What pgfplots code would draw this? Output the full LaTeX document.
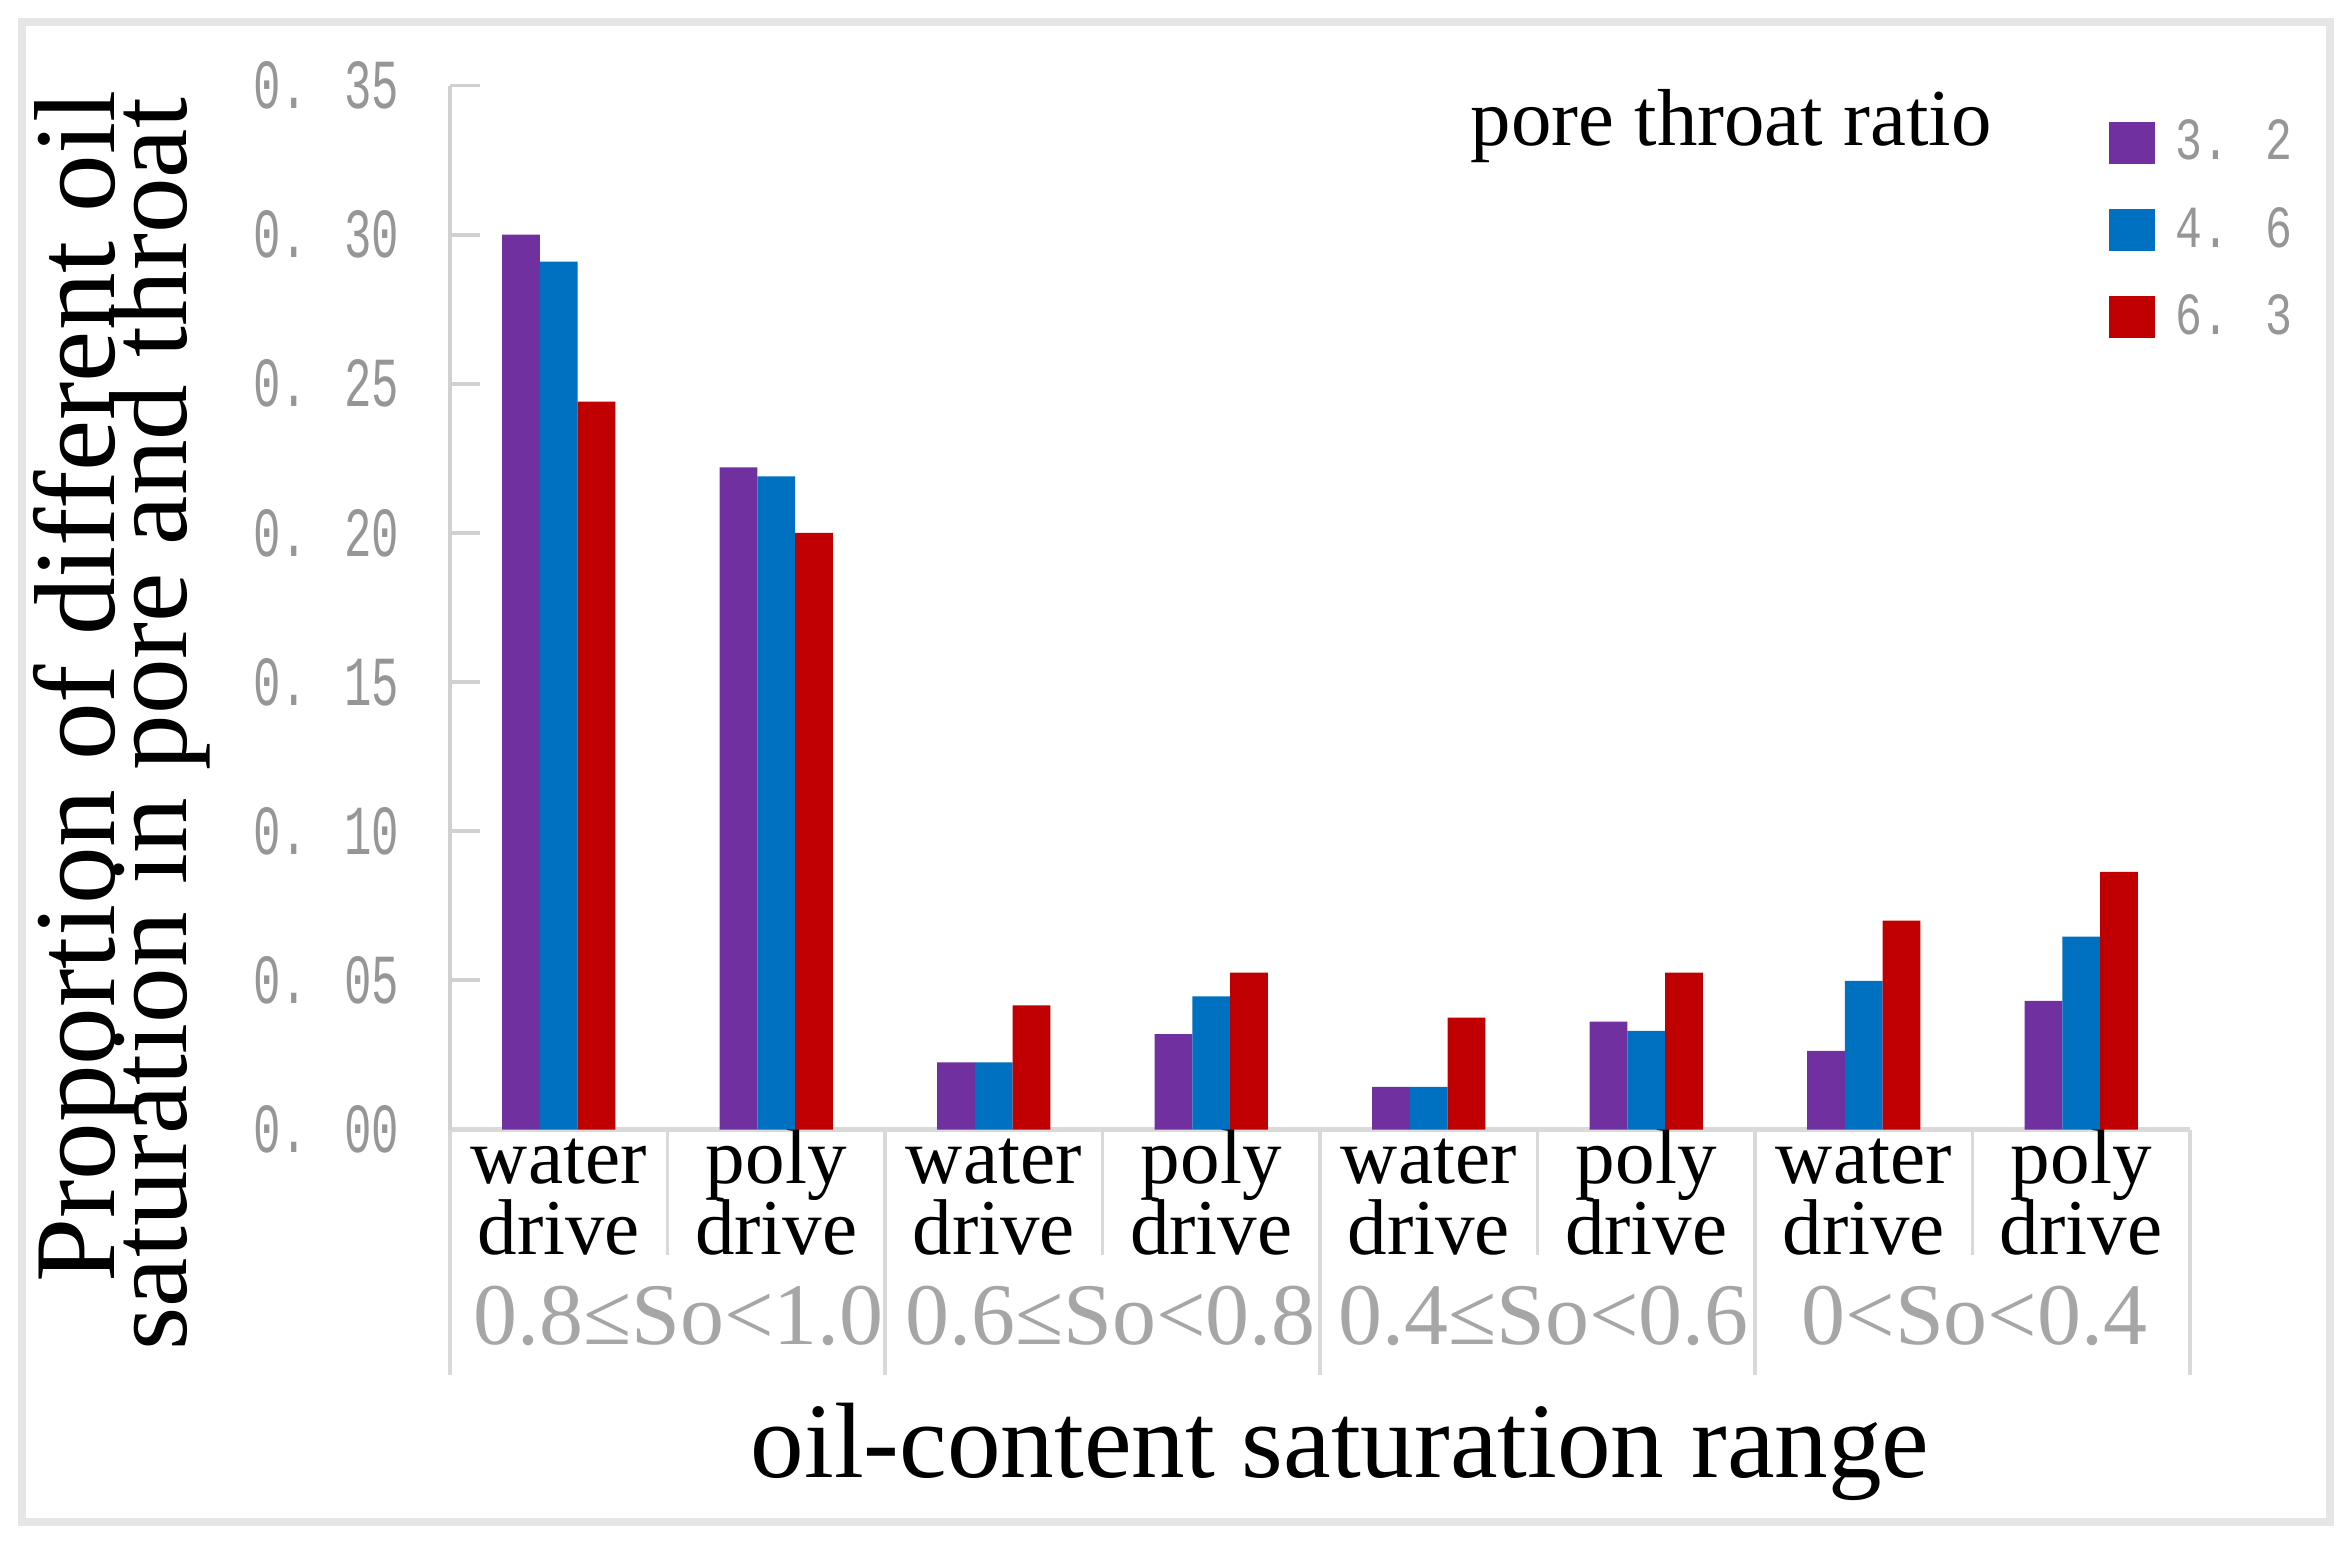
\documentclass[border=0pt]{standalone}
\usepackage{pgfplots}
\usepackage{pgfplotstable}
\usepackage{graphicx}
\usepackage{fontspec}
\pgfplotsset{compat=1.18}
\setmainfont{Liberation Serif}
\newfontfamily\monofont{Liberation Mono}
\setlength{\lineskiplimit}{-100pt}

\definecolor{cpurple}{HTML}{7030A0}
\definecolor{cblue}{HTML}{0070C0}
\definecolor{cred}{HTML}{C00000}
\definecolor{tickgray}{HTML}{969696}
\definecolor{grplab}{HTML}{A6A6A6}
\definecolor{axgray}{HTML}{D0D0D0}
\definecolor{sepgray}{HTML}{D9D9D9}
\definecolor{framegray}{HTML}{E6E6E6}

\newcommand{\tickl}[1]{\scalebox{0.65}[1]{#1}}
\newcommand{\legl}[1]{\scalebox{0.75}[1]{#1}}
\newcommand{\st}{\rule{0pt}{16pt}}

% oil saturation share per pore throat ratio
\pgfplotstableread{
x   r32    r46    r63
0   0.300  0.291  0.244
1   0.222  0.219  0.200
2   0.0225 0.0225 0.0416
3   0.0320 0.0446 0.0526
4   0.0143 0.0143 0.0375
5   0.0362 0.0331 0.0526
6   0.0264 0.0498 0.0700
7   0.0431 0.0647 0.0864
}\satdata

\tikzset{grp/.style={anchor=base, text=grplab, inner sep=0pt,
  font=\fontsize{25}{30}\selectfont}}

\begin{document}
\begin{tikzpicture}
\path[use as bounding box] (-4.5,-4.165) rectangle (19.0,11.295);
\draw[framegray, line width=0.08cm] (-4.28,-3.925) rectangle (18.80,11.075);

\begin{axis}[
  scale only axis,
  width=17.4cm, height=10.44cm,
  ybar=0pt, bar width=0.377cm,
  xmin=-0.5, xmax=7.5,
  ymin=0, ymax=0.35,
  axis lines*=left,
  axis line style={-},
  x axis line style={draw=sepgray, line width=1.4pt},
  y axis line style={draw=axgray, line width=1.1pt},
  clip=false,
  xtick={0,...,7},
  xticklabels={{\st water\\drive},{\st poly\\drive},{\st water\\drive},{\st poly\\drive},
               {\st water\\drive},{\st poly\\drive},{\st water\\drive},{\st poly\\drive}},
  x tick style={draw=none},
  xticklabel style={align=center, anchor=north, inner sep=0pt, yshift=0.7pt,
    font=\fontsize{22.5}{20}\selectfont},
  ytick={0,0.05,...,0.35},
  yticklabels={{\tickl{0. 00}},{\tickl{0. 05}},{\tickl{0. 10}},{\tickl{0. 15}},
               {\tickl{0. 20}},{\tickl{0. 25}},{\tickl{0. 30}},{\tickl{0. 35}}},
  y tick style={draw=axgray, line width=1.1pt},
  tick align=inside,
  major tick length=0.3cm,
  yticklabel style={anchor=east, inner sep=0pt, xshift=-0.5cm,
    text=tickgray, font=\monofont\fontsize{20}{24}\selectfont},
  legend image code/.code={\fill[#1] (0cm,-0.21cm) rectangle (0.46cm,0.21cm);},
  legend style={at={(rel axis cs:0.9532,0.967)}, anchor=north west,
    draw=none, fill=none, inner sep=0pt, outer sep=0pt,
    row sep=12pt, column sep=0.21cm,
    nodes={inner sep=0pt, text=tickgray,
      font=\monofont\fontsize{17}{20}\selectfont},
    cells={anchor=west}},
]
\addplot[draw=none, fill=cpurple] table[x=x, y=r32] {\satdata};
\addplot[draw=none, fill=cblue]   table[x=x, y=r46] {\satdata};
\addplot[draw=none, fill=cred]    table[x=x, y=r63] {\satdata};
\legend{\legl{3. 2}, \legl{4. 6}, \legl{6. 3}}

% category separators below the axis
\pgfplotsinvokeforeach{-0.5,1.5,3.5,5.5,7.5}{
  \draw[sepgray, line width=1.1pt] (axis cs:#1,0) -- ([yshift=-2.45cm]axis cs:#1,0);}
\pgfplotsinvokeforeach{0.5,2.5,4.5,6.5}{
  \draw[sepgray, line width=1.1pt] (axis cs:#1,0) -- ([yshift=-1.25cm]axis cs:#1,0);}

% saturation range groups
\node[grp] at ([xshift=0.11cm, yshift=-2.15cm]axis cs:0.5,0) {0.8≤So<1.0};
\node[grp] at ([xshift=0.08cm, yshift=-2.15cm]axis cs:2.5,0) {0.6≤So<0.8};
\node[grp] at ([xshift=0.06cm, yshift=-2.15cm]axis cs:4.5,0) {0.4≤So<0.6};
\node[grp] at ([xshift=0.02cm, yshift=-2.15cm]axis cs:6.5,0) {0<So<0.4};

\node[anchor=base west, inner sep=0pt, font=\fontsize{23}{27}\selectfont]
  at (rel axis cs:0.5862,0.943) {pore throat ratio};
\end{axis}

\node[rotate=90, anchor=base east, inner sep=0pt, font=\fontsize{32.8}{36}\selectfont]
  at (-3.35,10.395) {Proportion of different oil};
\node[rotate=90, anchor=base east, inner sep=0pt, font=\fontsize{31.6}{36}\selectfont]
  at (-2.63,10.32) {saturation in pore and throat};
\node[anchor=base, inner sep=0pt, font=\fontsize{30.5}{36}\selectfont]
  at (8.90,-3.475) {oil-content saturation range};
\end{tikzpicture}
\end{document}
